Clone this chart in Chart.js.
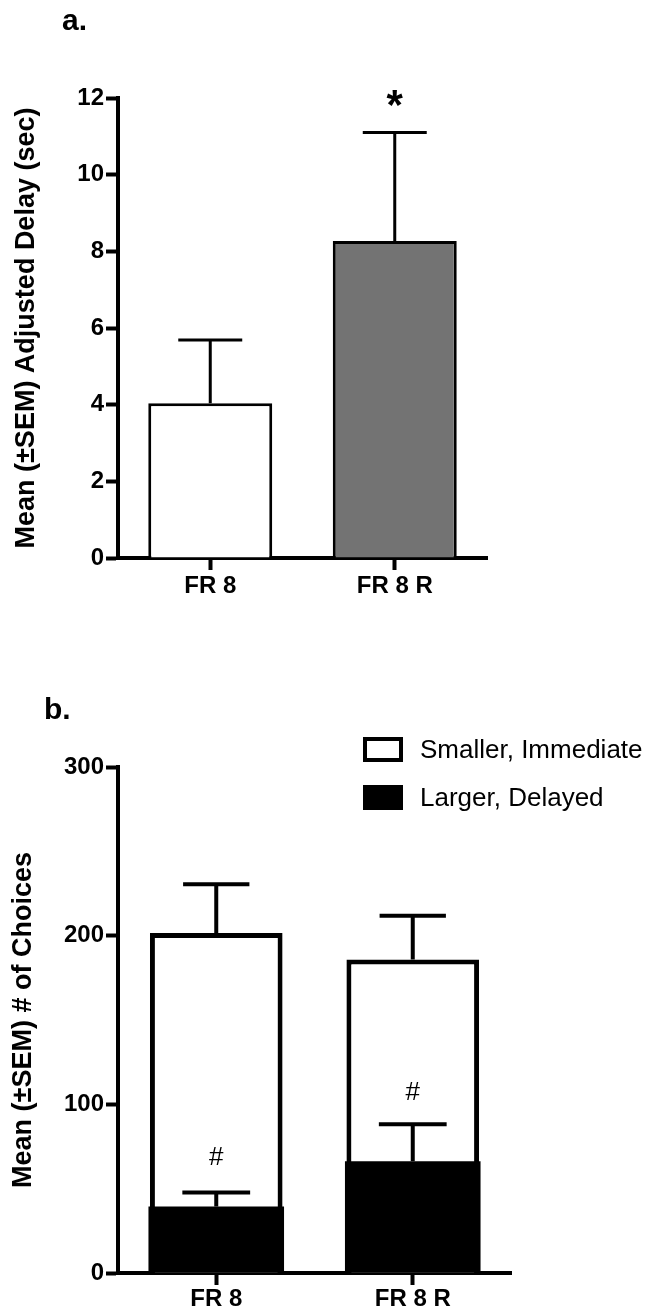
<!DOCTYPE html>
<html><head><meta charset="utf-8">
<script src="https://cdn.jsdelivr.net/npm/chart.js@4.4.1/dist/chart.umd.min.js"></script>
<style>
html,body{margin:0;padding:0;background:#fff;}
body{width:650px;height:1313px;position:relative;overflow:hidden;font-family:"Liberation Sans",Arial,Helvetica,sans-serif;}
#wrapA{position:absolute;left:0;top:0;width:650px;height:640px;}
#wrapB{position:absolute;left:0;top:640px;width:650px;height:673px;}
#legendB{position:absolute;left:363px;top:737px;width:287px;height:80px;color:#000;font-size:26px;}
.item{position:absolute;left:0;width:287px;height:25px;}
.box{position:absolute;left:0;top:0;width:40px;height:25px;box-sizing:border-box;}
.lbl{position:absolute;left:57px;top:-2px;line-height:29px;white-space:nowrap;}
</style></head><body>
<div id="wrapA"><canvas id="chartA"></canvas></div>
<div id="wrapB"><canvas id="chartB"></canvas></div>
<div id="legendB"></div>
<script>
// ---- data ----
const categories = ['FR 8', 'FR 8 R'];
const delayMeans = [4.04, 8.27];
const delaySEM = [1.65, 2.83];
const delayTicks = [0, 2, 4, 6, 8, 10, 12];
const delayMarks = ['', '*'];
const delayMarkAt = [null, 12];

const seriesNames = ['Smaller, Immediate', 'Larger, Delayed'];
const smallerMeans = [201.6, 185.8];
const smallerSEM = [28.9, 26.0];
const largerMeans = [39.4, 66.2];
const largerSEM = [8.4, 22.0];
const choiceTicks = [0, 100, 200, 300];
const choiceMarks = ['#', '#'];
const choiceMarkAt = [69.5, 107.8];

const FONT = "'Liberation Sans', Arial, Helvetica, sans-serif";
Chart.defaults.font.family = FONT;
Chart.defaults.color = '#000';

function errorBarsPlugin(lineWidth, capRatio) {
  return {
    id: 'errorBars',
    afterDatasetsDraw(chart) {
      const ctx = chart.ctx, y = chart.scales.y;
      chart.data.datasets.forEach((ds, di) => {
        if (!ds.sem) return;
        const meta = chart.getDatasetMeta(di);
        meta.data.forEach((bar, i) => {
          const base = y.getPixelForValue(ds.data[i]);
          const top = y.getPixelForValue(ds.data[i] + ds.sem[i]);
          const half = bar.width * capRatio;
          ctx.save();
          ctx.strokeStyle = '#000';
          ctx.lineWidth = lineWidth;
          ctx.beginPath();
          ctx.moveTo(bar.x, base);
          ctx.lineTo(bar.x, top);
          ctx.moveTo(bar.x - half, top);
          ctx.lineTo(bar.x + half, top);
          ctx.stroke();
          ctx.restore();
        });
      });
    }
  };
}

function marksPlugin(datasetIndex, texts, values, font, shift) {
  return {
    id: 'marks',
    afterDatasetsDraw(chart) {
      const ctx = chart.ctx, y = chart.scales.y;
      const meta = chart.getDatasetMeta(datasetIndex);
      texts.forEach((t, i) => {
        if (!t || values[i] == null) return;
        const px = meta.data[i].x;
        const py = y.getPixelForValue(values[i]);
        ctx.save();
        ctx.font = font;
        ctx.fillStyle = '#000';
        ctx.textAlign = 'center';
        ctx.textBaseline = 'alphabetic';
        ctx.fillText(t, px, py + shift);
        ctx.restore();
      });
    }
  };
}

function panelLabelPlugin(text, x, y) {
  return {
    id: 'panelLabel',
    afterDraw(chart) {
      const ctx = chart.ctx;
      ctx.save();
      ctx.font = 'bold 30px ' + FONT;
      ctx.fillStyle = '#000';
      ctx.textAlign = 'left';
      ctx.textBaseline = 'alphabetic';
      ctx.fillText(text, x, y);
      ctx.restore();
    }
  };
}

function axisCommon(size) {
  return {
    grid: { display: true, drawOnChartArea: false, tickLength: 12, tickWidth: 4, tickColor: '#000' },
    border: { display: true, color: '#000', width: 4 },
    ticks: { color: '#000', font: { size: size, weight: 'bold' }, padding: 3 }
  };
}

// ---- chart a ----
const ax = axisCommon(24);
const ay = axisCommon(24);
new Chart(document.getElementById('chartA'), {
  type: 'bar',
  data: {
    labels: categories,
    datasets: [{
      label: 'Adjusted Delay',
      data: delayMeans,
      sem: delaySEM,
      backgroundColor: ['#ffffff', '#737373'],
      borderColor: '#000',
      borderWidth: 3,
      borderSkipped: 'bottom',
      barPercentage: 0.672,
      categoryPercentage: 1
    }]
  },
  options: {
    responsive: true,
    maintainAspectRatio: false,
    animation: false,
    layout: { padding: { top: 98, right: 163, bottom: 0, left: 0 } },
    plugins: { legend: { display: false }, tooltip: { enabled: false } },
    scales: {
      x: {
        grid: Object.assign({}, ax.grid, { offset: false }),
        border: ax.border,
        ticks: Object.assign({}, ax.ticks, { padding: 2 }),
        afterFit: s => { s.height = 82; }
      },
      y: {
        min: 0, max: 12,
        grid: ay.grid,
        border: ay.border,
        afterBuildTicks: s => { s.ticks = delayTicks.map(v => ({ value: v })); },
        ticks: Object.assign({}, ay.ticks, { stepSize: 2, padding: 2 }),
        title: {
          display: true,
          text: 'Mean (±SEM) Adjusted Delay (sec)',
          color: '#000',
          font: { size: 27, weight: 'bold' },
          padding: { top: 10, bottom: 0 }
        },
        afterFit: s => { s.width = 118; }
      }
    }
  },
  plugins: [
    errorBarsPlugin(3, 0.258),
    marksPlugin(0, delayMarks, delayMarkAt, 'bold 42px ' + FONT, 42 * 0.5),
    panelLabelPlugin('a.', 62, 30)
  ]
});

// ---- chart b ----
const bx = axisCommon(24);
const by = axisCommon(24);
const chartB = new Chart(document.getElementById('chartB'), {
  type: 'bar',
  data: {
    labels: categories,
    datasets: [
      {
        label: seriesNames[0],
        data: smallerMeans,
        sem: smallerSEM,
        backgroundColor: '#ffffff',
        borderColor: '#000',
        borderWidth: 5,
        borderSkipped: 'bottom',
        barPercentage: 0.675,
        categoryPercentage: 1,
        grouped: false,
        order: 2
      },
      {
        label: seriesNames[1],
        data: largerMeans,
        sem: largerSEM,
        backgroundColor: '#000000',
        borderColor: '#000',
        borderWidth: 0,
        barPercentage: 0.69,
        categoryPercentage: 1,
        grouped: false,
        order: 1
      }
    ]
  },
  options: {
    responsive: true,
    maintainAspectRatio: false,
    animation: false,
    layout: { padding: { top: 127, right: 139, bottom: 0, left: 0 } },
    plugins: { legend: { display: false }, tooltip: { enabled: false } },
    scales: {
      x: {
        grid: Object.assign({}, bx.grid, { offset: false }),
        border: bx.border,
        ticks: Object.assign({}, bx.ticks, { padding: 0 }),
        afterFit: s => { s.height = 40; }
      },
      y: {
        min: 0, max: 300,
        grid: by.grid,
        border: by.border,
        afterBuildTicks: s => { s.ticks = choiceTicks.map(v => ({ value: v })); },
        ticks: Object.assign({}, by.ticks, { stepSize: 100, padding: 2 }),
        title: {
          display: true,
          text: 'Mean (±SEM) # of Choices',
          color: '#000',
          font: { size: 27, weight: 'bold' },
          padding: { top: 7, bottom: 0 }
        },
        afterFit: s => { s.width = 118; }
      }
    }
  },
  plugins: [
    errorBarsPlugin(4, 0.25),
    marksPlugin(1, choiceMarks, choiceMarkAt, '26px ' + FONT, 26 * 0.35),
    panelLabelPlugin('b.', 44, 79)
  ]
});

// ---- HTML legend built from the datasets ----
const legendEl = document.getElementById('legendB');
chartB.data.datasets.forEach((ds, i) => {
  const item = document.createElement('div');
  item.className = 'item';
  item.style.top = (i * 48) + 'px';
  const box = document.createElement('div');
  box.className = 'box';
  box.style.background = ds.backgroundColor;
  box.style.border = '4px solid #000';
  const lbl = document.createElement('div');
  lbl.className = 'lbl';
  lbl.textContent = ds.label;
  item.appendChild(box);
  item.appendChild(lbl);
  legendEl.appendChild(item);
});
</script>
</body></html>
